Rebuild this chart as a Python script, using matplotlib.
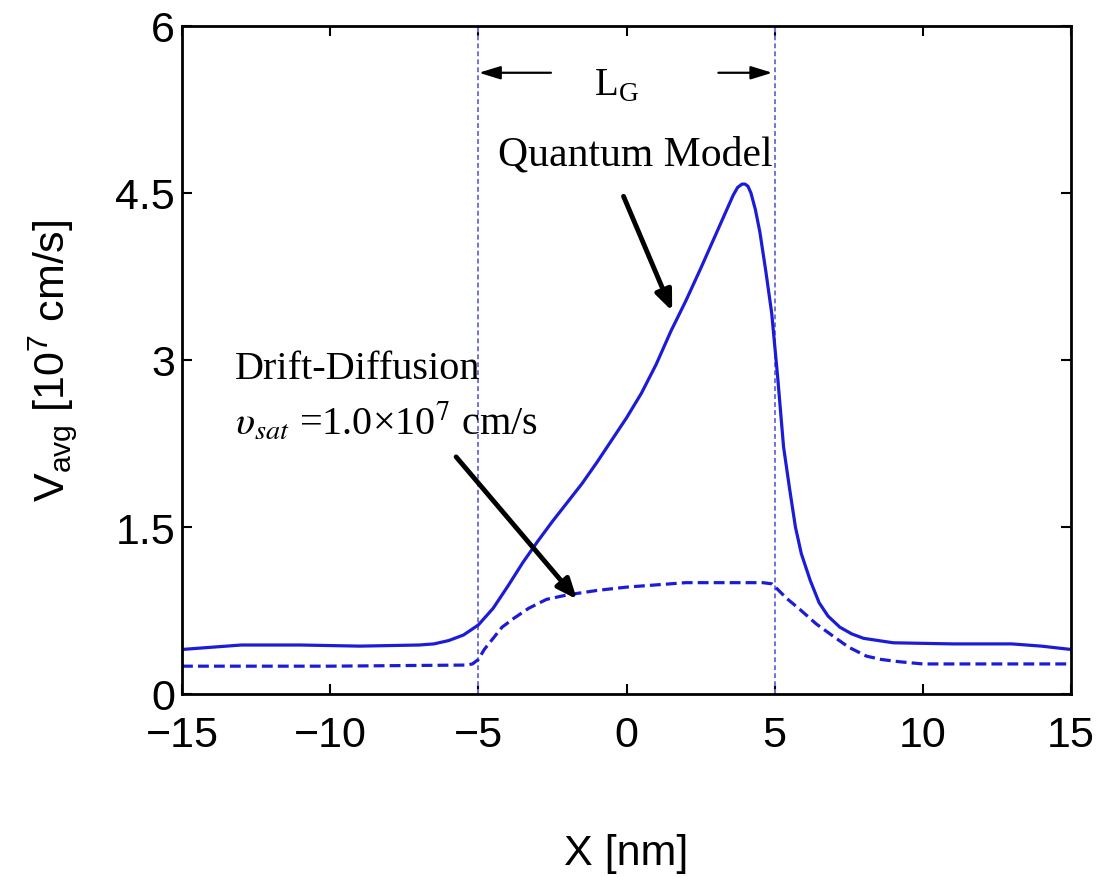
import numpy as np
import matplotlib
matplotlib.use("Agg")
import matplotlib.pyplot as plt

# values
x_qm = [-15, -13, -11, -9, -7, -6.5, -6, -5.5, -5, -4.5, -4, -3.5, -3, -2.5, -2, -1.5, -1,
        -0.5, 0, 0.5, 1, 1.5, 2, 2.5, 3, 3.3, 3.6, 3.75, 3.9, 4.0, 4.1, 4.2, 4.35, 4.5,
        4.7, 4.9, 5.1, 5.3, 5.5, 5.7, 5.9, 6.2, 6.5, 6.8, 7.2, 7.6, 8.0, 8.5, 9, 11, 13,
        14, 15]
v_qm = [0.40, 0.44, 0.44, 0.43, 0.44, 0.45, 0.48, 0.53, 0.62, 0.77, 0.97, 1.18, 1.37, 1.55,
        1.72, 1.89, 2.08, 2.28, 2.48, 2.70, 2.96, 3.26, 3.53, 3.82, 4.12, 4.30, 4.48, 4.55,
        4.58, 4.58, 4.56, 4.50, 4.35, 4.15, 3.80, 3.42, 2.85, 2.22, 1.85, 1.50, 1.26, 1.02,
        0.82, 0.70, 0.60, 0.54, 0.50, 0.48, 0.46, 0.45, 0.45, 0.43, 0.40]

x_dd = [-15, -10, -5.4, -5.2, -5.0, -4.8, -4.5, -4.2, -3.8, -3.3, -2.7, -2, -1, 0, 1, 2, 3,
        4, 4.6, 4.9, 5.1, 5.4, 5.85, 6.4, 6.97, 7.5, 8.1, 8.6, 9.2, 10, 15]
v_dd = [0.25, 0.25, 0.26, 0.27, 0.31, 0.40, 0.50, 0.60, 0.68, 0.77, 0.85, 0.89, 0.93, 0.96,
        0.98, 1.00, 1.00, 1.00, 1.00, 0.99, 0.94, 0.86, 0.76, 0.63, 0.52, 0.42, 0.34, 0.31,
        0.29, 0.27, 0.27]

gate_edges = [-5, 5]
xticks = [-15, -10, -5, 0, 5, 10, 15]
xtick_labels = ['\u221215', '\u221210', '\u22125', '0', '5', '10', '15']
yticks = [0, 1.5, 3, 4.5, 6]
ytick_labels = ['0', '1.5', '3', '4.5', '6']

sans = 'Liberation Sans'
serif = 'Liberation Serif'

fig = plt.figure(figsize=(11.05, 8.78), dpi=100)
ax = fig.add_axes([182/1105, 1 - 695/878, 889/1105, 668/878])

for xe in gate_edges:
    ax.axvline(xe, color='#7272e2', lw=1.4, ls=(0, (2.5, 1.6)))

blue = '#1c1cd6'
ax.plot(x_qm, v_qm, color=blue, lw=2.3)
ax.plot(x_dd, v_dd, color=blue, lw=2.3, ls=(0, (3.4, 1.6)))

ax.set_xlim(-15, 15)
ax.set_ylim(0, 6)
ax.set_xticks(xticks)
ax.set_xticklabels(xtick_labels, fontsize=31, family=sans)
ax.set_yticks(yticks)
ax.set_yticklabels(ytick_labels, fontsize=31, family=sans)
ax.tick_params(direction='in', length=7, width=1.5, top=True, right=True)
ax.tick_params(axis='x', pad=15)
ax.tick_params(axis='y', pad=5)
for s in ax.spines.values():
    s.set_linewidth(2)

ax.set_xlabel('X [nm]', fontsize=31, family=sans, labelpad=56)
ax.set_ylabel(r'V$_{\mathregular{avg}}$ [10$^{\mathregular{7}}$ cm/s]', fontsize=31,
              family=sans, labelpad=26)

ax.text(-0.35, 5.47, r'L$_{\mathregular{G}}$', fontsize=28, family=serif,
        ha='center', va='center')
ax.text(0.3, 4.85, 'Quantum Model', fontsize=30, family=serif,
        ha='center', va='center')
ax.text(-13.2, 2.92, 'Drift-Diffusion', fontsize=29, family=serif,
        ha='left', va='center')
ax.text(-13.2, 2.45, '$\\upsilon_{sat}$ =1.0\u00d710$^{7}$ cm/s', fontsize=29,
        family=serif, math_fontfamily='stix', ha='left', va='center')

arrow = dict(arrowstyle='-|>,head_length=1.2,head_width=0.5', color='black', lw=3.5,
             shrinkA=0, shrinkB=0)
thin = dict(arrowstyle='-|>,head_length=1.3,head_width=0.4', color='black', lw=1.6,
            shrinkA=0, shrinkB=0)
ax.annotate('', xy=(1.54, 3.44), xytext=(-0.1, 4.47), arrowprops=arrow)
ax.annotate('', xy=(-1.67, 0.85), xytext=(-5.75, 2.13), arrowprops=arrow)
ax.annotate('', xy=(-4.98, 5.58), xytext=(-2.55, 5.58), arrowprops=thin)
ax.annotate('', xy=(4.92, 5.58), xytext=(3.1, 5.58), arrowprops=thin)

fig.savefig('out.png', dpi=100)
